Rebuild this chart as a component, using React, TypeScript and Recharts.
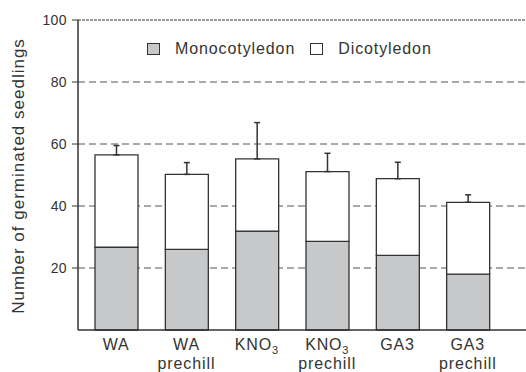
import {
  Bar,
  BarChart,
  CartesianGrid,
  ErrorBar,
  Legend,
  ReferenceLine,
  XAxis,
  YAxis,
} from "recharts";

const FONT = "'Liberation Sans', Arial, Helvetica, sans-serif";
const INK = "#333";
const MONO_FILL = "#c7c8ca";

const treatments = ["WA", "WA prechill", "KNO3", "KNO3 prechill", "GA3", "GA3 prechill"];
const monocot = [26.7, 26.0, 31.9, 28.6, 24.1, 18.0];
const totals = [56.5, 50.2, 55.2, 51.1, 48.8, 41.2];
const errUp = [3.0, 3.8, 11.7, 5.9, 5.3, 2.4];
const yTicks = [20, 40, 60, 80, 100];
const gridValues = [20, 40, 60, 80];

const data = treatments.map((name, i) => ({
  name,
  mono: monocot[i],
  dicot: +(totals[i] - monocot[i]).toFixed(1),
  err: [0, errUp[i]],
}));

function TickLabel({ x, y, payload }: any) {
  const [first, ...rest] = String(payload.value).split(" ");
  const second = rest.join(" ");
  const sub = first.endsWith("3") && first.startsWith("KNO");
  return (
    <g>
      <text
        x={x}
        y={y + 12}
        textAnchor="middle"
        fill={INK}
        fontSize={16}
        fontFamily={FONT}
        letterSpacing={0.8}
      >
        {sub ? (
          <>
            KNO
            <tspan fontSize={11} dy={4}>
              3
            </tspan>
          </>
        ) : (
          first
        )}
      </text>
      {second && (
        <text
          x={x}
          y={y + 31}
          textAnchor="middle"
          fill={INK}
          fontSize={16}
          fontFamily={FONT}
          letterSpacing={0.9}
        >
          {second}
        </text>
      )}
    </g>
  );
}

function Swatch({ fill }: { fill: string }) {
  return (
    <span
      style={{
        display: "inline-block",
        width: 11,
        height: 10,
        background: fill,
        border: `1.3px solid ${INK}`,
        marginRight: 15,
      }}
    />
  );
}

function LegendBox() {
  return (
    <div
      style={{
        display: "flex",
        alignItems: "center",
        fontFamily: FONT,
        fontSize: 16,
        letterSpacing: 0.9,
        color: INK,
        lineHeight: "20px",
        whiteSpace: "nowrap",
      }}
    >
      <Swatch fill={MONO_FILL} />
      <span style={{ marginRight: 15 }}>Monocotyledon</span>
      <Swatch fill="#fff" />
      <span>Dicotyledon</span>
    </div>
  );
}

export default function App() {
  return (
    <div style={{ position: "absolute", left: 0, top: 0, width: 526, height: 372, background: "#fff" }}>
      <BarChart
        width={526}
        height={372}
        data={data}
        margin={{ top: 20, right: 0, bottom: 0, left: 18 }}
        barSize={43}
      >
        <CartesianGrid
          horizontal
          vertical={false}
          horizontalValues={gridValues}
          stroke="#555"
          strokeDasharray="7 4"
        />
        <XAxis
          dataKey="name"
          height={42}
          axisLine={{ stroke: INK, strokeWidth: 1.5 }}
          tickLine={false}
          interval={0}
          padding={{ left: 3, right: 23 }}
          tick={<TickLabel />}
        />
        <YAxis
          width={60}
          domain={[0, 100]}
          ticks={yTicks}
          interval={0}
          axisLine={{ stroke: INK, strokeWidth: 1.5 }}
          tickLine={{ stroke: INK, strokeWidth: 1 }}
          tickSize={6}
          tickMargin={5}
          tick={{ fill: INK, fontSize: 14, fontFamily: FONT, letterSpacing: 0.4 }}
          label={{
            content: () => (
              <text
                transform="translate(24, 176) rotate(-90)"
                textAnchor="middle"
                fill={INK}
                fontSize={17}
                fontFamily={FONT}
                letterSpacing={1.0}
              >
                Number of germinated seedlings
              </text>
            ),
          }}
        />
        <ReferenceLine y={100} stroke="#333" strokeDasharray="3 1" />
        <Legend
          layout="vertical"
          verticalAlign="middle"
          align="center"
          content={() => <LegendBox />}
          wrapperStyle={{ left: 147, top: 39, width: 320, height: 20 }}
        />
        <Bar
          dataKey="mono"
          stackId="s"
          fill={MONO_FILL}
          stroke={INK}
          strokeWidth={1.3}
          isAnimationActive={false}
        />
        <Bar
          dataKey="dicot"
          stackId="s"
          fill="#fff"
          stroke={INK}
          strokeWidth={1.3}
          isAnimationActive={false}
        >
          <ErrorBar dataKey="err" direction="y" width={3} stroke={INK} strokeWidth={1.5} />
        </Bar>
      </BarChart>
    </div>
  );
}
